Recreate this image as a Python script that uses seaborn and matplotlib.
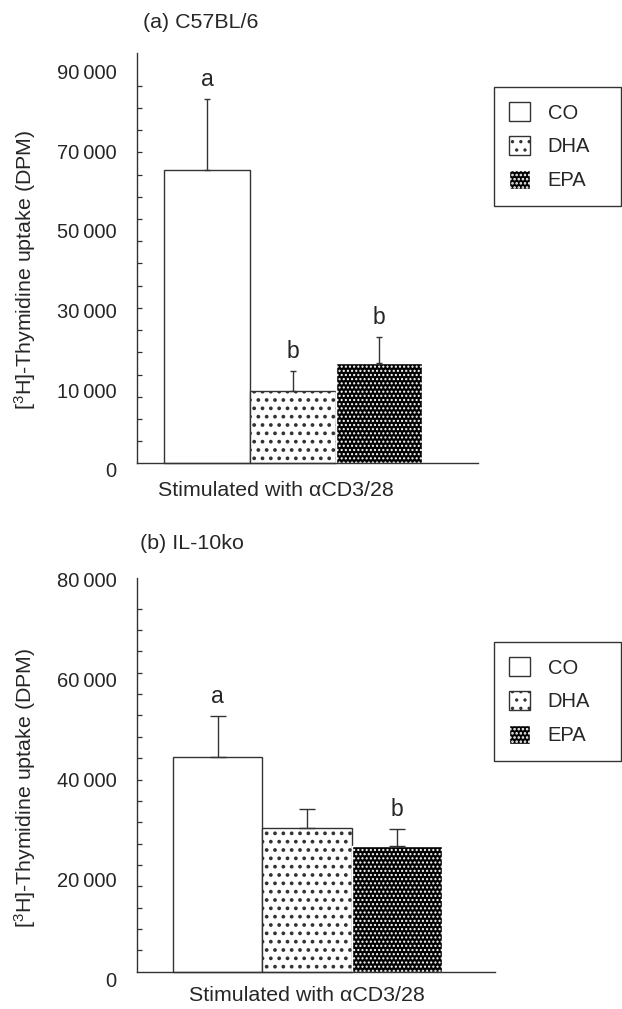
import numpy as np
import pandas as pd
import seaborn as sns
import matplotlib.pyplot as plt

# diets (one bar each)
groups = ["CO", "DHA", "EPA"]

# (a) C57BL/6 - [3H]-thymidine uptake, mean and upper SEM
a_mean = [66000, 16400, 22500]
a_err = [16100, 4300, 6000]
a_letters = ["a", "b", "b"]

# (b) IL-10ko
b_mean = [43000, 28700, 25100]
b_err = [8100, 3800, 3500]
b_letters = ["a", "", "b"]

# y tick labels as printed on the figure
a_ticklabels = ["0", "10\u2009000", "30\u2009000", "50\u2009000", "70\u2009000", "90\u2009000"]
b_ticklabels = ["0", "20\u2009000", "40\u2009000", "60\u2009000", "80\u2009000"]

sns.set_style("ticks")
plt.rcParams["font.family"] = ["Liberation Sans", "DejaVu Sans"]
plt.rcParams["mathtext.default"] = "regular"
plt.rcParams["hatch.linewidth"] = 1.2

faces = ["white", "white", "black"]
edges = ["#333333", "#333333", "white"]
hatches = ["", "..", "...."]
hatch_lw = [1.0, 1.5, 1.0]

fig = plt.figure(figsize=(6.22, 10.09), dpi=100)


def panel(rect, title, mean, err, letters, ylim, xlim, minor, label_pos, labels,
          xlab_xy, ylab_xy, title_xy, leg_box, cap):
    ax = fig.add_axes(rect)
    df = pd.DataFrame({"diet": groups, "dpm": mean})
    sns.barplot(data=df, x="diet", y="dpm", order=groups, color="white", width=1,
                edgecolor="#333333", linewidth=1.0, errorbar=None, ax=ax)
    for p, fc, ec, h, hl in zip(ax.patches, faces, edges, hatches, hatch_lw):
        p.set_facecolor(fc)
        p.set_edgecolor(ec)
        p.set_hatch(h)
        if hasattr(p, "set_hatch_linewidth"):
            p.set_hatch_linewidth(hl)

    x = np.arange(len(groups))
    ax.errorbar(x, mean, yerr=[np.zeros(len(mean)), err], fmt="none", ecolor="#333333",
                elinewidth=1.0, capsize=cap, capthick=1.0, zorder=3)
    for i, l in enumerate(letters):
        if l:
            ax.annotate(l, (x[i], mean[i] + err[i]), xytext=(0, 14), textcoords="offset points",
                        ha="center", va="center", fontsize=16.5)

    ax.set_ylim(*ylim)
    ax.set_xlim(*xlim)
    sns.despine(ax=ax)
    ax.spines["bottom"].set_position(("data", 0))
    ax.spines["left"].set_bounds(0, ylim[1])
    for s in ["left", "bottom"]:
        ax.spines[s].set_color("#333333")
        ax.spines[s].set_linewidth(1.0)

    ax.set_xticks([])
    ax.set_yticks(label_pos)
    ax.set_yticklabels(labels)
    ax.set_yticks(minor, minor=True)
    ax.tick_params(axis="y", which="major", length=0, pad=14.6, labelsize=14.5)
    ax.tick_params(axis="y", which="minor", direction="in", length=3.6, width=0.9, color="#333333")

    ax.set_xlabel("Stimulated with \u03b1CD3/28", fontsize=15.4)
    ax.xaxis.set_label_coords(*xlab_xy)
    ax.set_ylabel(r"[$^{3}$H]-Thymidine uptake (DPM)", fontsize=15.4)
    ax.yaxis.set_label_coords(*ylab_xy)
    ax.text(title_xy[0], title_xy[1], title, transform=ax.transAxes, fontsize=15.4,
            ha="left", va="center")

    leg = ax.legend(handles=list(ax.patches[:3]), labels=groups, loc="upper left",
                    bbox_to_anchor=leg_box, bbox_transform=fig.transFigure, mode="expand",
                    fancybox=False, edgecolor="#333333", framealpha=1, fontsize=14.5,
                    handlelength=1.05, handleheight=1.05, handletextpad=0.85,
                    labelspacing=0.68, borderpad=0.76, borderaxespad=0)
    leg.get_frame().set_linewidth(1.0)
    return ax


panel([0.2203, 0.5232, 0.5482, 0.4240], "(a) C57BL/6", a_mean, a_err, a_letters,
      (-4000, 92340), (-0.814, 3.155), np.arange(5000, 90000, 5000),
      [-1500, 16500, 34500, 52500, 70200, 88200], a_ticklabels,
      (0.408, 0.0), (-0.29, 0.4935), (0.0176, 1.071),
      (494 / 622, 1 - 204 / 1009, 127 / 622, 117 / 1009), 2.2)

panel([0.2203, 0.01715, 0.5756, 0.4097], "(b) IL-10ko", b_mean, b_err, b_letters,
      (-4000, 78680), (-0.898, 3.094), np.linspace(0, 72600, 18)[1:],
      [-1600, 18400, 38400, 58400, 78400], b_ticklabels,
      (0.475, 0.014), (-0.2765, 0.494), (0.008, 1.083),
      (494 / 622, 1 - 758 / 1009, 127 / 622, 116 / 1009), 5.8)

fig.savefig("out.png", dpi=100)
